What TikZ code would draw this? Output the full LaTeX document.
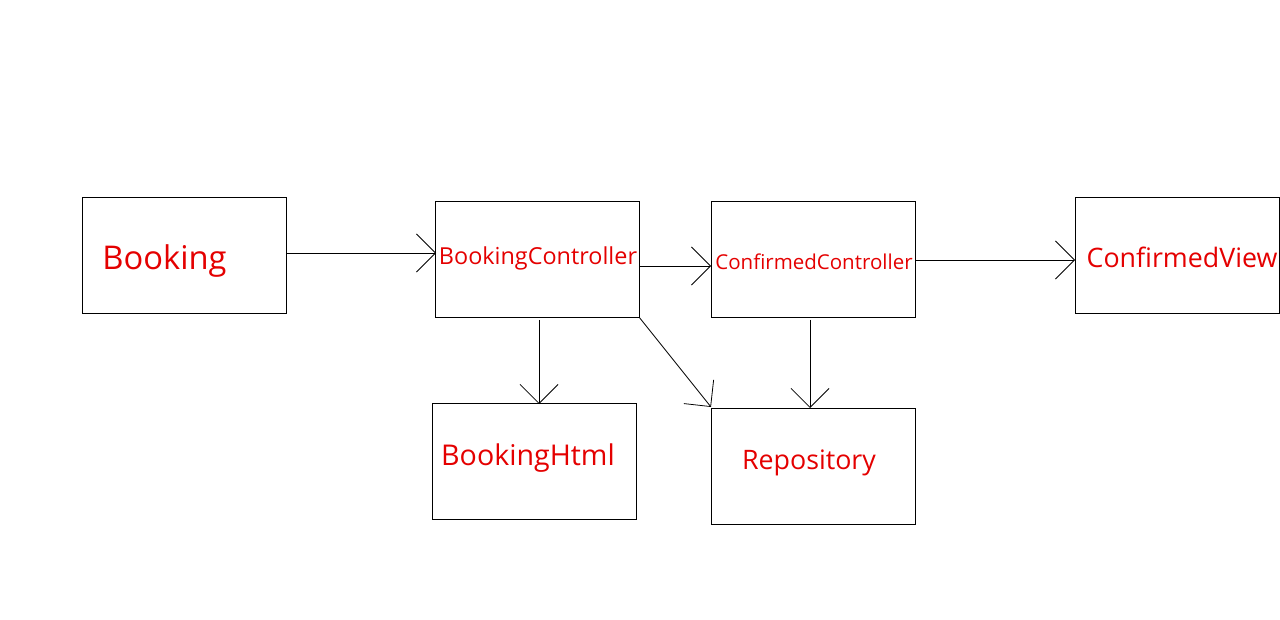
\documentclass[tikz,border=0pt]{standalone}
\usepackage{fontspec}
\setmainfont{Open Sans}
\usetikzlibrary{arrows.meta}
\definecolor{lbl}{RGB}{228,0,0}
\tikzset{
  box/.style={draw, line width=1pt, minimum width=204pt, minimum height=116pt, anchor=north west, inner sep=0pt},
  lab/.style={text=lbl, inner sep=0pt, anchor=center},
  conn/.style={line width=0.8pt, -{Straight Barb[length=19pt,width=38pt,line width=0.8pt]}}
}
\begin{document}
\begin{tikzpicture}[x=1pt,y=-1pt]
\useasboundingbox (0,0) rectangle (1280,620);
\node[box] (bk) at (82,197) {};
\node[box] (bc) at (435,201) {};
\node[box] (cc) at (711,201) {};
\node[box] (cv) at (1075,197) {};
\node[box] (bh) at (432,403) {};
\node[box] (rp) at (711,408) {};
\node[lab, font=\fontsize{32.7}{38}\selectfont] (tbk) at (164.5,261) {Booking};
\node[lab, font=\fontsize{23.4}{28}\selectfont] (tbc) at (538,258) {BookingController};
\node[lab, font=\fontsize{20.5}{24}\selectfont] (tcc) at (814,262) {ConfirmedController};
\node[lab, font=\fontsize{26.8}{30}\selectfont] (tcv) at (1182,257) {ConfirmedView};
\node[lab, font=\fontsize{28.6}{32}\selectfont] (tbh) at (528,458) {BookingHtml};
\node[lab, font=\fontsize{26.8}{30}\selectfont] (trp) at (809,463) {Repository};
\coordinate (a1) at (286,253); \coordinate (b1) at (436,253);
\draw[conn] (a1) -- (b1);
\coordinate (a2) at (639,266); \coordinate (b2) at (711,266);
\draw[conn] (a2) -- (b2);
\coordinate (a3) at (915,260); \coordinate (b3) at (1075,260);
\draw[conn] (a3) -- (b3);
\coordinate (a4) at (539,320); \coordinate (b4) at (539,404);
\draw[conn] (a4) -- (b4);
\coordinate (a5) at (639,317); \coordinate (b5) at (711,407);
\draw[conn] (a5) -- (b5);
\coordinate (a6) at (810,320); \coordinate (b6) at (810,408);
\draw[conn] (a6) -- (b6);
\end{tikzpicture}
\end{document}
